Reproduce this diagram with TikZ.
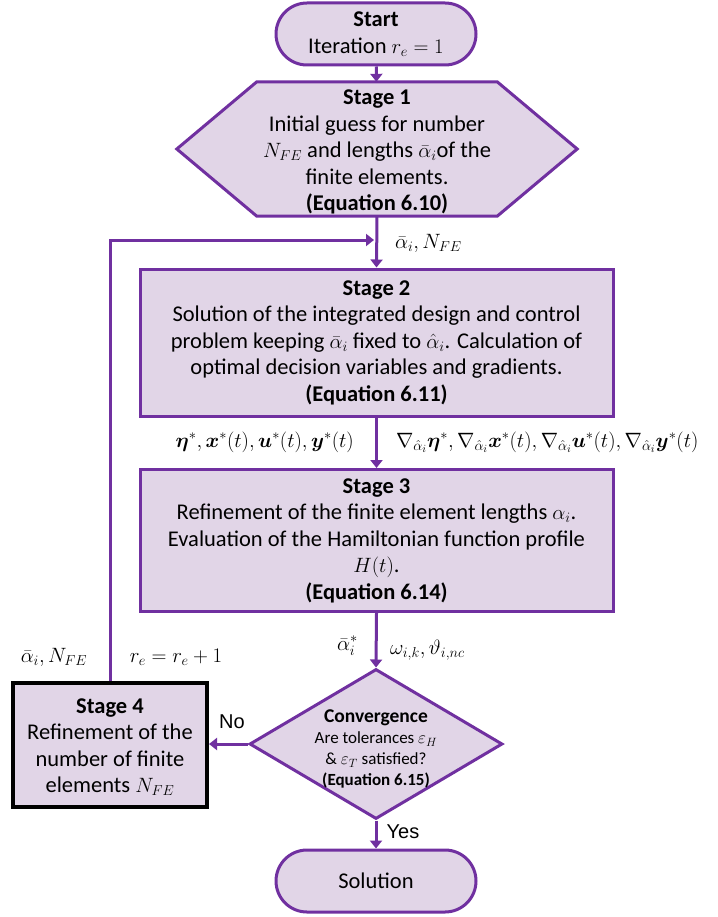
\documentclass[tikz,border=0pt]{standalone}
\usepackage{amsmath}
\usepackage{fontspec}
\setmainfont{Carlito}
\newfontfamily\arialfont{Liberation Sans}
\usetikzlibrary{arrows.meta,shapes.geometric,shapes.misc,backgrounds}
\definecolor{pfill}{HTML}{E1D5E7}
\definecolor{pline}{HTML}{7030A0}
\begin{document}
\begin{tikzpicture}[x=1pt,y=-1pt,
  txt/.style={align=center,inner sep=0pt,font=\fontsize{22.5}{26.5}\selectfont},
  box/.style={draw=pline,fill=pfill,line width=3pt,txt},
  term/.style={box,rounded rectangle,minimum width=200pt,minimum height=62pt},
  conn/.style={draw=pline,line width=3pt,-{Triangle[length=8pt,width=12pt]}},
  lab/.style={font=\fontsize{22}{24}\selectfont,inner sep=0pt},
  yn/.style={font=\arialfont\fontsize{20}{24}\selectfont,inner sep=0pt}]
\useasboundingbox (0,0) rectangle (717,917);

% Start
\node[term] (start) at (376,34) {\textbf{Start}\\Iteration $r_e=1$};

% Stage 1 (hexagon)
\node[inner sep=0pt,minimum width=400pt,minimum height=134pt] (s1) at (377,149) {};
\draw[draw=pline,fill=pfill,line width=3pt,line join=miter]
  (s1.west) -- ([xshift=80pt]s1.north west) -- ([xshift=-80pt]s1.north east) -- (s1.east)
  -- ([xshift=-80pt]s1.south east) -- ([xshift=80pt]s1.south west) -- cycle;
\node[txt] (s1text) at ([yshift=-3pt]s1.center)
  {\textbf{Stage 1}\\Initial guess for number\\$N_{FE}$ and lengths $\bar{\alpha}_i$of the\\finite elements.\\\textbf{(Equation 6.10)}};

% Stage 2
\node[box,minimum width=473pt,minimum height=147pt] (s2) at (376.5,342.5)
  {\textbf{Stage 2}\\Solution of the integrated design and control\\problem keeping $\bar{\alpha}_i$ fixed to $\hat{\alpha}_i$. Calculation of\\optimal decision variables and gradients.\\\textbf{(Equation 6.11)}};

% Stage 3
\node[box,minimum width=473pt,minimum height=142pt] (s3) at (376.5,540.5)
  {\textbf{Stage 3}\\Refinement of the finite element lengths $\alpha_i$.\\Evaluation of the Hamiltonian function profile\\$H(t)$.\\\textbf{(Equation 6.14)}};

% Convergence diamond
\node[diamond,draw=pline,fill=pfill,line width=3pt,minimum width=253pt,minimum height=150pt,inner sep=0pt] (conv) at (376,744) {};
\node[align=center,inner sep=0pt,font=\fontsize{17}{21}\selectfont] (convtext) at ([yshift=-5pt]conv.center)
  {{\fontsize{19.5}{21}\selectfont\textbf{Convergence}}\\Are tolerances $\varepsilon_H$\\\& $\varepsilon_T$ satisfied?\\\textbf{(Equation 6.15)}};

% Stage 4
\node[draw=black,fill=pfill,line width=4pt,inner sep=0pt,minimum width=194pt,minimum height=124pt] (s4) at (110,745) {};
\node[txt] (s4text) at ([yshift=-2pt]s4.center)
  {\textbf{Stage 4}\\Refinement of the\\number of finite\\elements $N_{FE}$};

% Solution
\node[term] (sol) at (376,881) {Solution};

% connectors
\coordinate (fbe) at (374,240);
\draw[conn] (start) -- (s1);
\draw[conn] (s1.south) -- (s2.north);
\draw[conn] (s4.north) |- (fbe);
\draw[conn] (s2.south) -- (s3.north);
\draw[conn] (s3.south) -- (conv.north);
\draw[conn] (conv.west) -- (conv.west -| s4.east);
\draw[conn] (conv.south) -- (sol.north);

% labels
\node[lab,anchor=west] (l1) at (395,243) {$\bar{\alpha}_i, N_{FE}$};
\node[lab,anchor=east] (l2) at (354,442) {$\boldsymbol{\eta}^{*}, \boldsymbol{x}^{*}(t), \boldsymbol{u}^{*}(t), \boldsymbol{y}^{*}(t)$};
\node[lab,anchor=west] (l3) at (396,442) {$\nabla_{\hat{\alpha}_i}\boldsymbol{\eta}^{*}, \nabla_{\hat{\alpha}_i}\boldsymbol{x}^{*}(t), \nabla_{\hat{\alpha}_i}\boldsymbol{u}^{*}(t), \nabla_{\hat{\alpha}_i}\boldsymbol{y}^{*}(t)$};
\node[lab,anchor=east] (l4) at (358,646) {$\bar{\alpha}_i^{*}$};
\node[lab,anchor=west] (l5) at (390,650) {$\omega_{i,k}, \vartheta_{i,nc}$};
\node[lab] (l6) at (54,657) {$\bar{\alpha}_i, N_{FE}$};
\node[lab] (l7) at (176,657) {$r_e = r_e + 1$};
\node[yn] (no) at (232,722) {No};
\node[yn] (yes) at (403,832) {Yes};
\end{tikzpicture}
\end{document}
